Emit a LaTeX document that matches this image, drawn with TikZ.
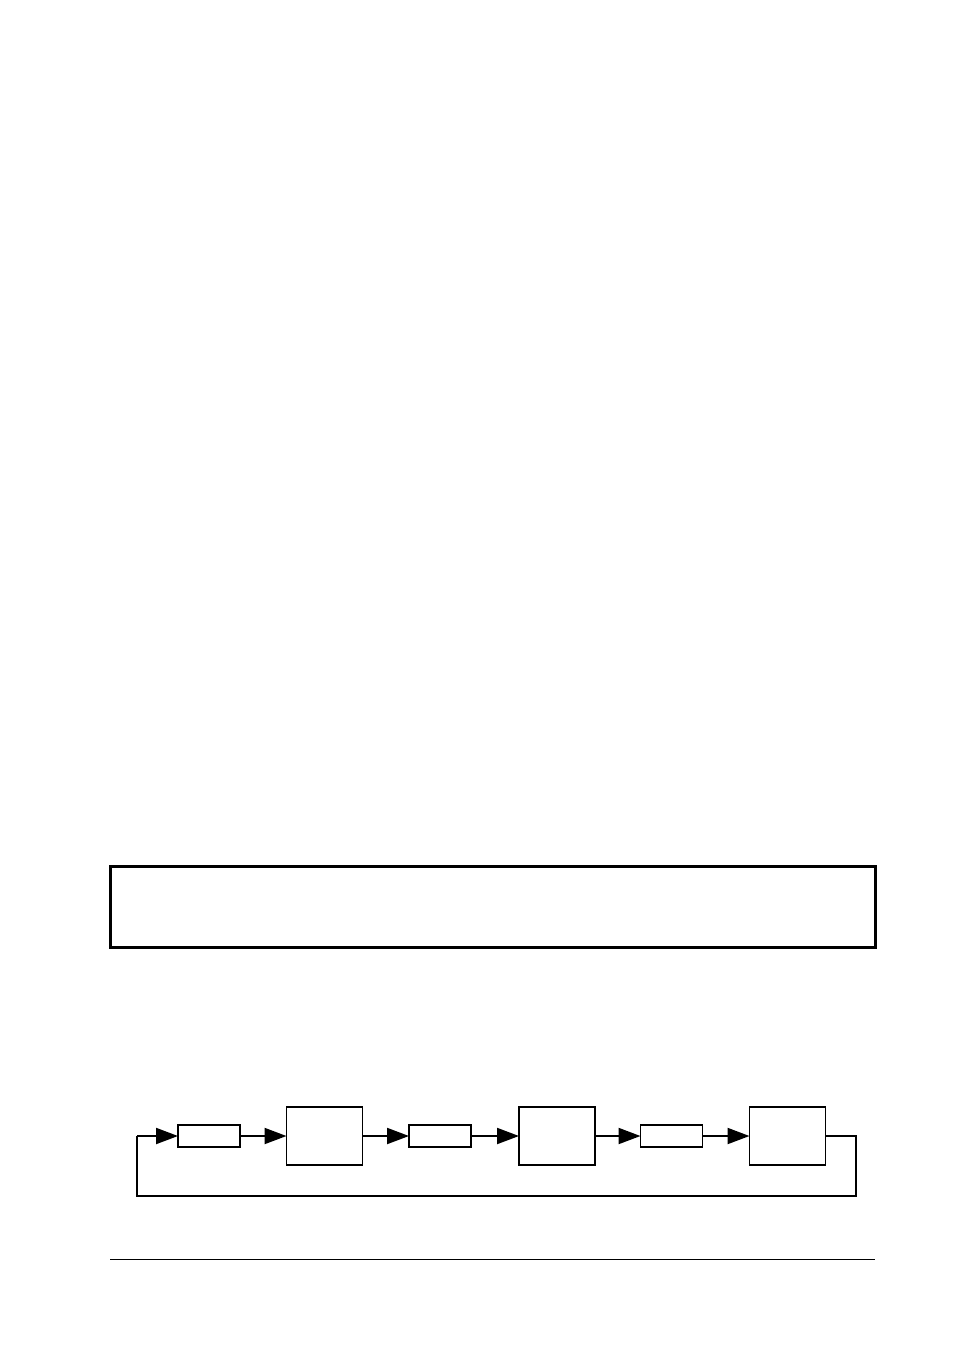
\documentclass[tikz,border=0pt]{standalone}
\usetikzlibrary{arrows.meta}
\begin{document}
\begin{tikzpicture}[x=1pt,y=-1pt,
  smallbox/.style={draw,line width=1.6pt,minimum width=62pt,minimum height=22pt,inner sep=0pt,outer sep=0pt},
  block/.style={draw,line width=1.6pt,minimum width=76pt,minimum height=58pt,inner sep=0pt,outer sep=0pt},
  sig/.style={line width=2pt,-{Triangle[length=22pt,width=16pt]}},
  wire/.style={line width=2pt}]
\useasboundingbox (0,0) rectangle (954,1352);
\node[draw,line width=3pt,minimum width=765pt,minimum height=81pt,inner sep=0pt] (frame) at (492.5,906.5) {};
\node[smallbox] (s1) at (209,1136) {};
\node[block] (b1) at (324.5,1136) {};
\node[smallbox] (s2) at (440,1136) {};
\node[block] (b2) at (557,1136) {};
\node[smallbox] (s3) at (671.5,1136) {};
\node[block] (b3) at (787.5,1136) {};
\coordinate (r1) at (856,1136);
\coordinate (r2) at (856,1196);
\coordinate (l1) at (137,1196);
\coordinate (l2) at (137,1136);
\draw[sig] (s1.east) -- (b1.west);
\draw[sig] (b1.east) -- (s2.west);
\draw[sig] (s2.east) -- (b2.west);
\draw[sig] (b2.east) -- (s3.west);
\draw[sig] (s3.east) -- (b3.west);
\draw[wire] (b3.east) -- (r1) -- (r2) -- (l1) -- (l2);
\draw[sig] (l2) -- (s1.west);
\coordinate (h1) at (110,1259);
\coordinate (h2) at (875,1259);
\draw[line width=1pt] (h1) -- (h2);
\end{tikzpicture}
\end{document}
